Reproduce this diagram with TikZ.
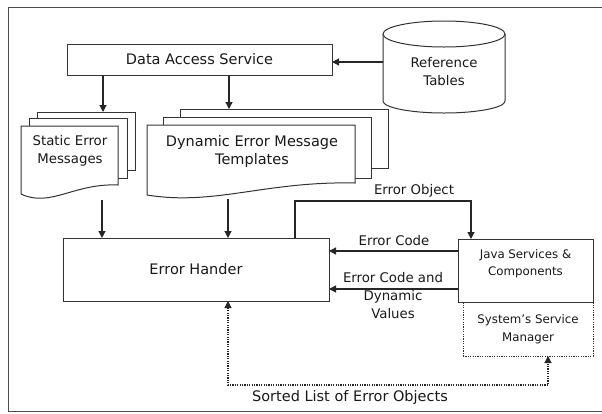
\documentclass[tikz,border=0pt]{standalone}
\usepackage{fontspec}
\setmainfont{DejaVu Sans}
\usetikzlibrary{arrows.meta}

\begin{document}
\begin{tikzpicture}[x=1pt,y=-1pt,
  every node/.style={inner sep=0pt, outer sep=0pt, text=black!90},
  box/.style={draw=black!80, fill=white, line width=1pt},
  sheet/.style={draw=black!80, fill=white, line width=1pt},
  tip/.style={-{Triangle[length=7pt,width=7pt]}},
  flow/.style={draw=black!85, line width=1.2pt, tip},
  finedots/.style={dash pattern=on 1.2pt off 1.2pt},
  dotflow/.style={draw=black!85, line width=1.2pt, finedots,
    {Triangle[length=7pt,width=7pt]}-{Triangle[length=7pt,width=7pt]}},
  big/.style={font=\fontsize{14.5}{18}\selectfont},
  mid/.style={font=\fontsize{13.3}{18}\selectfont},
  small/.style={font=\fontsize{11.8}{17.5}\selectfont},
]
\useasboundingbox (0,0) rectangle (602,413);

% outer frame
\draw[black!70, line width=0.9pt] (602,7) -- (8,7) -- (8,411) -- (602,411);

% data access service
\node[box, big, minimum width=265, minimum height=31] (das) at (199.5,59.5) {Data Access Service};

% reference tables (cylinder)
\draw[box] (383,34) -- (383,101)
  .. controls (383,107.6) and (410.3,113) .. (444,113)
  .. controls (477.7,113) and (505,107.6) .. (505,101) -- (505,34);
\draw[box] (444,34) ellipse [x radius=61, y radius=13];
\node[mid, align=center] (ref) at (444,72) {Reference\\Tables};

% static error messages stack
\node[sheet, anchor=north west, minimum width=98, minimum height=58] (stB) at (37,112) {};
\node[sheet, anchor=north west, minimum width=98, minimum height=60] (stM) at (29,118) {};
\draw[sheet] (21,126) -- (118,126) -- (118,185)
  .. controls (74,183) and (50,208) .. (21,194) -- cycle;
\node[mid, align=center] (static) at (70,151) {Static Error\\Messages};

% dynamic error message templates stack
\node[sheet, anchor=north west, minimum width=208, minimum height=59] (dyB) at (180,109) {};
\node[sheet, anchor=north west, minimum width=208, minimum height=61] (dyM) at (163,117) {};
\draw[sheet] (147,125) -- (355,125) -- (355,183)
  .. controls (265,181) and (215,206) .. (147,195) -- cycle;
\node[big, align=center] (dyn) at (252,151) {Dynamic Error Message\\Templates};

% error handler
\node[box, big, minimum width=266, minimum height=63] (eh) at (196,269.5) {Error Hander};

% java services and service manager
\node[draw=black!80, line width=1pt, finedots, small, align=center,
      minimum width=130, minimum height=54] (ssm) at (528,329) {System's Service\\Manager};
\node[box, minimum width=135, minimum height=63] (java) at (525.5,270.5) {};
\node[small, align=center] (javat) at (525.5,263.5) {Java Services \&\\Components};

% connectors from the data access service
\coordinate (c1) at (103,0);
\coordinate (c2) at (229,0);
\draw[flow] (c1 |- das.south) -- (c1 |- stB.north);
\draw[flow] (c2 |- das.south) -- (c2 |- dyB.north);
\coordinate (refL) at (383,62);
\draw[flow] (refL) -- (refL -| das.east);

% connectors into the error handler
\coordinate (s1) at (102,200);
\coordinate (d1) at (228,199);
\draw[flow] (s1) -- (s1 |- eh.north);
\draw[flow] (d1) -- (d1 |- eh.north);

% error object loop
\coordinate (eo1) at (295,201);
\coordinate (eo2) at (471,201);
\draw[flow] (eo1 |- eh.north) -- (eo1) -- (eo2) -- (eo2 |- java.north);
\node[mid] (eolab) at (414,191) {Error Object};

% error codes back to the handler
\coordinate (ec) at (0,251);
\coordinate (ecd) at (0,289);
\draw[flow] (ec -| java.west) -- (ec -| eh.east);
\draw[flow] (ecd -| java.west) -- (ecd -| eh.east);
\node[mid] (eclab) at (394,241) {Error Code};
\node[mid, align=center] (ecdlab) at (393,296) {Error Code and\\Dynamic\\Values};

% sorted list of error objects
\coordinate (sl) at (228,385);
\coordinate (sr) at (548,385);
\draw[dotflow] (sl |- eh.south) -- (sl) -- (sr) -- (sr |- ssm.south);
\node[big] (sorted) at (350,397) {Sorted List of Error Objects};
\end{tikzpicture}
\end{document}
